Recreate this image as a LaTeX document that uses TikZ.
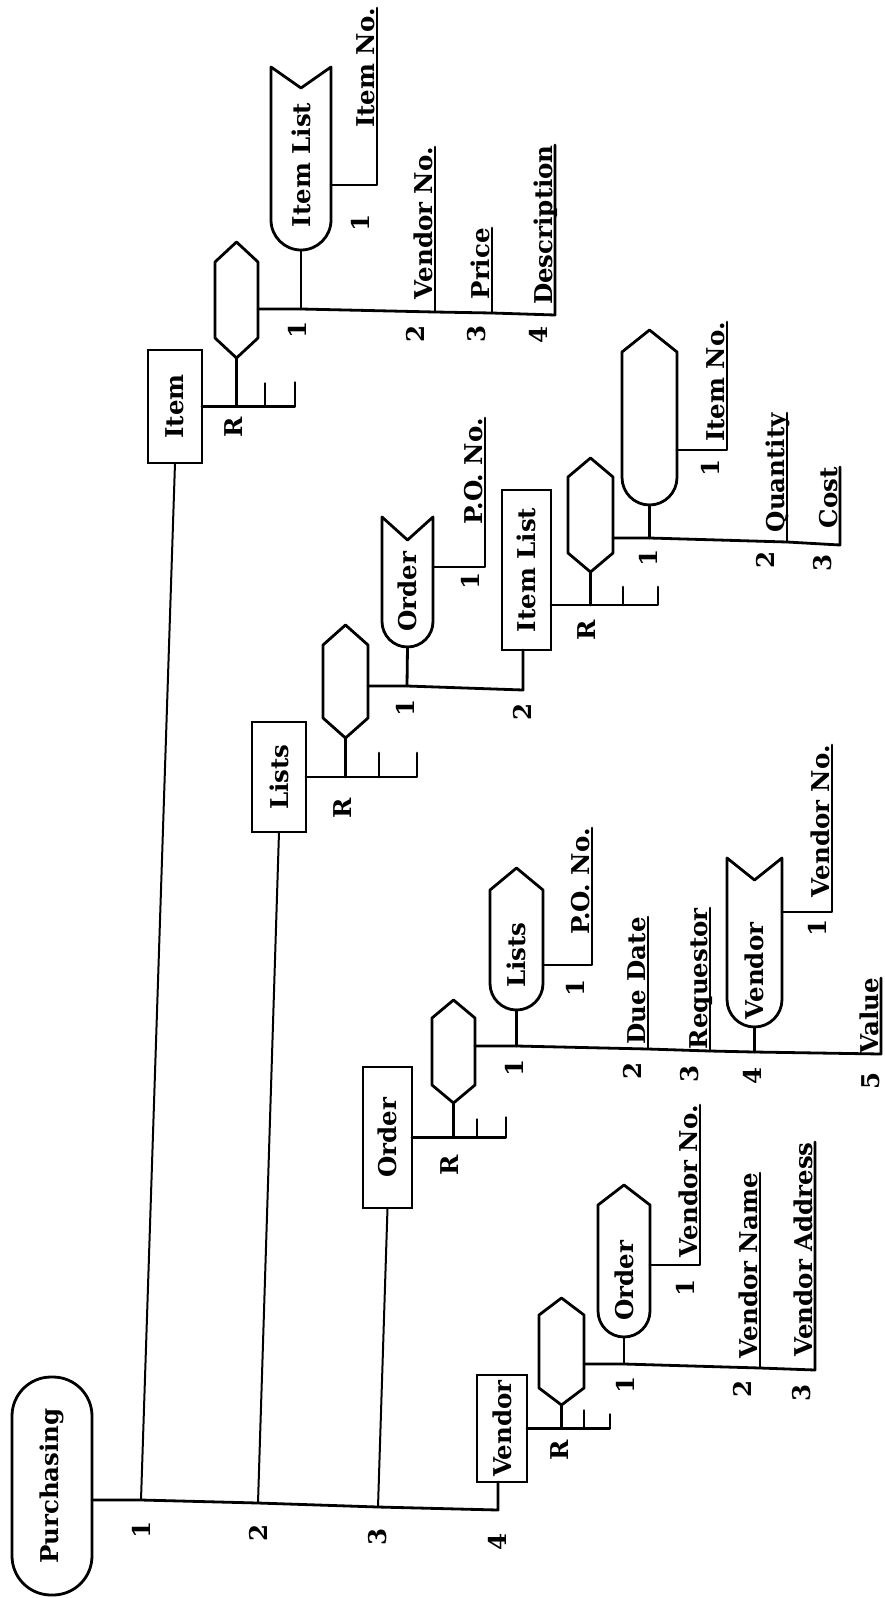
\documentclass[tikz,border=0pt]{standalone}
\usepackage{fontspec}
\setmainfont{DejaVu Serif}
\usepackage{graphicx}
\usetikzlibrary{calc}
\newcommand\tf{\fontsize{24.5}{28}\selectfont\bfseries}
\tikzset{
  base/.style={line width=2.8pt, line join=round, line cap=round},
  trunk/.style={line width=2pt, line cap=round},
  shp/.style={inner sep=0pt, outer sep=0pt},
  boxn/.style={draw, line width=2.8pt, inner sep=0pt, outer sep=0pt, font=\tf},
  txt/.style={rotate=90, font=\tf, inner sep=0pt},
  attr/.style={rotate=90, font=\tf, inner sep=0pt, anchor=base east},
}
\newcommand\hexshape[6]{%
 \node[shp, minimum width=#4, minimum height=#5] (#1) at (#2,#3) {};
 \draw[base] (#1.north) -- ([yshift=-#6]#1.north east) -- ([yshift=#6]#1.south east) -- (#1.south) -- ([yshift=#6]#1.south west) -- ([yshift=-#6]#1.north west) -- cycle;}
\newcommand\ptflag[6]{%
 \node[shp, minimum width=#4, minimum height=#5] (#1) at (#2,#3) {};
 \draw[base] (#1.north) -- ([yshift=-#6]#1.north east) -- ([yshift={#4/2}]#1.south east) arc[start angle=0,end angle=-180,radius={#4*0.5pt}] -- ([yshift=-#6]#1.north west) -- cycle;}
\newcommand\ntflag[6]{%
 \node[shp, minimum width=#4, minimum height=#5] (#1) at (#2,#3) {};
 \draw[base] (#1.north west) -- ([yshift=-#6]#1.north) -- (#1.north east) -- ([yshift={#4/2}]#1.south east) arc[start angle=0,end angle=-180,radius={#4*0.5pt}] -- cycle;}
\begin{document}
\begin{tikzpicture}[x=1pt,y=-1pt]
\fill[white] (0,0) rectangle (884,1598);
\useasboundingbox (0,0) rectangle (884,1598);

% ---------- root and trunk ----------
\node[draw, line width=2.8pt, rounded corners=39pt, minimum width=80, minimum height=218, inner sep=0pt, outer sep=0pt, font=\tf] (P) at (52,1486) {\rotatebox{90}{Purchasing}};
\coordinate (t1) at (141,1500);
\coordinate (t2) at (258,1503);
\coordinate (t3) at (378,1507);
\coordinate (t4) at (498,1510);

\node[boxn, minimum width=54, minimum height=113] (item) at (175,406.5) {\rotatebox{90}{Item}};
\node[boxn, minimum width=54, minimum height=110] (lists) at (279,777) {\rotatebox{90}{Lists}};
\node[boxn, minimum width=49, minimum height=141] (order) at (387.5,1137.5) {\rotatebox{90}{Order}};
\node[boxn, minimum width=50, minimum height=107] (vbox) at (502,1428.5) {\rotatebox{90}{Vendor}};

\draw[base] (P.east |- t1) -- (t1) -- (t2) -- (t3) -- (t4) -- (t4 |- vbox.south);
\draw[trunk] (t1) -- (item.south);
\draw[trunk] (t2) -- (lists.south);
\draw[trunk] (t3) -- (order.south);
\node[txt] (n1) at (141,1530) {1};
\node[txt] (n2) at (258,1533) {2};
\node[txt] (n3) at (378,1537) {3};
\node[txt] (n4) at (497,1542) {4};

% ---------- Item branch ----------
\hexshape{hexI}{236.5}{300}{43}{116}{20}
\coordinate (iK) at (265,406.5);
\coordinate (iE) at (295,406.5);
\draw[base] (item.east) -- (iE) -- ++(0,-24);
\draw[base] (iK) -- ++(0,-23);
\draw[base] (hexI.south) -- (hexI.south |- item.east);
\node[txt] (iR) at (234,427) {R};

\ntflag{flagI}{301}{158.5}{60}{183}{21}
\node[txt] (flagIt) at (301,165) {Item List};
\coordinate (a1) at (301,309);
\coordinate (a2) at (435,312);
\coordinate (a3) at (492,313);
\coordinate (a4) at (555,315);
\coordinate (a2t) at (435,147);
\coordinate (a3t) at (492,228);
\coordinate (a4t) at (555,145);
\draw[base] (hexI.east |- a1) -- (a1) -- (a2) -- (a3) -- (a4) -- (a4t);
\draw[base] (a1) -- (flagI.south);
\draw[base] (a2) -- (a2t);
\draw[base] (a3) -- (a3t);
\coordinate (b1) at (377,185);
\coordinate (b1t) at (377,8);
\draw[base] (flagI.east |- b1) -- (b1) -- (b1t);
\node[attr] (ItemNo1) at ([xshift=-3pt]b1t) {Item No.};
\node[attr] (VendNo1) at ([xshift=-3pt]a2t) {Vendor No.};
\node[attr] (Price) at ([xshift=-3pt]a3t) {Price};
\node[attr] (Descr) at ([xshift=-3pt]a4t) {Description};
\node[txt] (ia1) at (297,330) {1};
\node[txt] (ia2) at (415,334) {2};
\node[txt] (ia3) at (477,334) {3};
\node[txt] (ia4) at (538,335) {4};
\node[txt] (ib1) at (360,223) {1};

% ---------- Lists branch ----------
\hexshape{hexL}{345.5}{681.5}{45}{113}{20}
\coordinate (lK) at (379,777);
\coordinate (lE) at (417,777);
\draw[base] (lists.east) -- (lE) -- ++(0,-24);
\draw[base] (lK) -- ++(0,-24);
\draw[base] (hexL.south) -- (hexL.south |- lists.east);
\node[txt] (lR) at (343,808) {R};

\ntflag{flagO}{407.5}{582}{51}{130}{23}
\node[txt] (flagOt) at (407.5,592) {Order};
\node[boxn, minimum width=49, minimum height=160] (ilb) at (526.5,570) {\rotatebox{90}{Item List}};
\coordinate (c1) at (407,686);
\coordinate (c2) at (523,690);
\draw[base] (hexL.east |- c1) -- (c1) -- (c2) -- (c2 |- ilb.south);
\draw[base] (c1) -- (flagO.south);
\coordinate (d1) at (485,567);
\coordinate (d1t) at (485,418);
\draw[base] (flagO.east |- d1) -- (d1) -- (d1t);
\node[attr] (PONo1) at ([xshift=-3pt]d1t) {P.O. No.};
\node[txt] (lc1) at (405,708) {1};
\node[txt] (lc2) at (522,712) {2};
\node[txt] (ld1) at (470,581) {1};

% Item List (record) sub-branch
\hexshape{hexIL}{590.5}{515}{45}{114}{19}
\coordinate (eK) at (623,605);
\coordinate (eE) at (658,605);
\draw[base] (ilb.east |- eE) -- (eE) -- ++(0,-18);
\draw[base] (eK) -- ++(0,-18);
\draw[base] (hexIL.south) -- (hexIL.south |- eE);
\node[txt] (eR) at (587,630) {R};

\ptflag{stad}{649.5}{417.5}{55}{175}{22}
\coordinate (m1) at (649.5,538);
\coordinate (m2) at (787,542);
\coordinate (m3) at (840,545);
\coordinate (m2t) at (787,413);
\coordinate (m3t) at (840,467);
\draw[base] (hexIL.east |- m1) -- (m1) -- (m2) -- (m3) -- (m3t);
\draw[base] (m2) -- (m2t);
\draw[base] (m1) -- (stad.south);
\coordinate (f1) at (727,450);
\coordinate (f1t) at (727,322);
\draw[base] (stad.east |- f1) -- (f1) -- (f1t);
\node[attr] (ItemNo2) at ([xshift=-3pt]f1t) {Item No.};
\node[attr] (Qty) at ([xshift=-3pt]m2t) {Quantity};
\node[attr] (Cost) at ([xshift=-3pt]m3t) {Cost};
\node[txt] (em1) at (648,558) {1};
\node[txt] (em2) at (765,560) {2};
\node[txt] (em3) at (823,563) {3};
\node[txt] (ef1) at (710,468) {1};

% ---------- Order branch ----------
\hexshape{hexO}{453.5}{1051.5}{43}{103}{18}
\coordinate (oK) at (477,1137.5);
\coordinate (oE) at (506,1137.5);
\draw[base] (order.east) -- (oE) -- ++(0,-20);
\draw[base] (oK) -- ++(0,-18);
\draw[base] (hexO.south) -- (hexO.south |- order.east);
\node[txt] (oR) at (450,1165) {R};

\ptflag{flagL}{516.5}{939}{53}{142}{22}
\node[txt] (flagLt) at (516.5,955) {Lists};
\ntflag{flagV}{754.5}{942.5}{55}{169}{22}
\node[txt] (flagVt) at (754.5,971) {Vendor};
\coordinate (k1) at (516.5,1046);
\coordinate (k2) at (648,1049);
\coordinate (k3) at (710,1051);
\coordinate (k4) at (754.5,1052);
\coordinate (k5) at (881,1054);
\coordinate (k2t) at (648,917);
\coordinate (k3t) at (710,908);
\coordinate (k5t) at (881,978);
\draw[base] (hexO.east |- k1) -- (k1) -- (k2) -- (k3) -- (k4) -- (k5) -- (k5t);
\draw[base] (k1) -- (flagL.south);
\draw[base] (k2) -- (k2t);
\draw[base] (k3) -- (k3t);
\draw[base] (k4) -- (flagV.south);
\coordinate (g1) at (592,965);
\coordinate (g1t) at (592,828);
\draw[base] (flagL.east |- g1) -- (g1) -- (g1t);
\coordinate (h1) at (832,912);
\coordinate (h1t) at (832,745);
\draw[base] (flagV.east |- h1) -- (h1) -- (h1t);
\node[attr] (PONo2) at ([xshift=-3pt]g1t) {P.O. No.};
\node[attr] (DueDate) at ([xshift=-3pt]k2t) {Due Date};
\node[attr] (Req) at ([xshift=-3pt]k3t) {Requestor};
\node[attr] (VendNo2) at ([xshift=-3pt]h1t) {Vendor No.};
\node[attr] (Value) at ([xshift=-3pt]k5t) {Value};
\node[txt] (ok1) at (514,1068) {1};
\node[txt] (ok2) at (632,1071) {2};
\node[txt] (ok3) at (690,1074) {3};
\node[txt] (ok4) at (752,1076) {4};
\node[txt] (ok5) at (871,1081) {5};
\node[txt] (og1) at (575,988) {1};
\node[txt] (oh1) at (817,928) {1};

% ---------- Vendor branch ----------
\hexshape{hexV}{561.5}{1351.5}{45}{107}{17}
\coordinate (vK) at (584,1428.5);
\coordinate (vE) at (610,1428.5);
\draw[base] (vbox.east) -- (vE) -- ++(0,-14);
\draw[base] (vK) -- ++(0,-18);
\draw[base] (hexV.south) -- (hexV.south |- vbox.east);
\node[txt] (vR) at (560,1450) {R};

\ptflag{flagOV}{624}{1261}{52}{152}{20}
\node[txt] (flagOVt) at (624,1281) {Order};
\coordinate (p1) at (624,1364);
\coordinate (p2) at (760,1368);
\coordinate (p3) at (815,1370);
\coordinate (p2t) at (760,1173);
\coordinate (p3t) at (815,1142);
\draw[base] (hexV.east |- p1) -- (p1) -- (p2) -- (p3) -- (p3t);
\draw[base] (p2) -- (p2t);
\draw[base] (p1) -- (flagOV.south);
\coordinate (q1) at (700,1265);
\coordinate (q1t) at (700,1105);
\draw[base] (flagOV.east |- q1) -- (q1) -- (q1t);
\node[attr] (VendNo3) at ([xshift=-3pt]q1t) {Vendor No.};
\node[attr] (VendName) at ([xshift=-3pt]p2t) {Vendor Name};
\node[attr] (VendAddr) at ([xshift=-3pt]p3t) {Vendor Address};
\node[txt] (vp1) at (625,1385) {1};
\node[txt] (vp2) at (742,1389) {2};
\node[txt] (vp3) at (802,1393) {3};
\node[txt] (vq1) at (685,1288) {1};
\end{tikzpicture}
\end{document}
